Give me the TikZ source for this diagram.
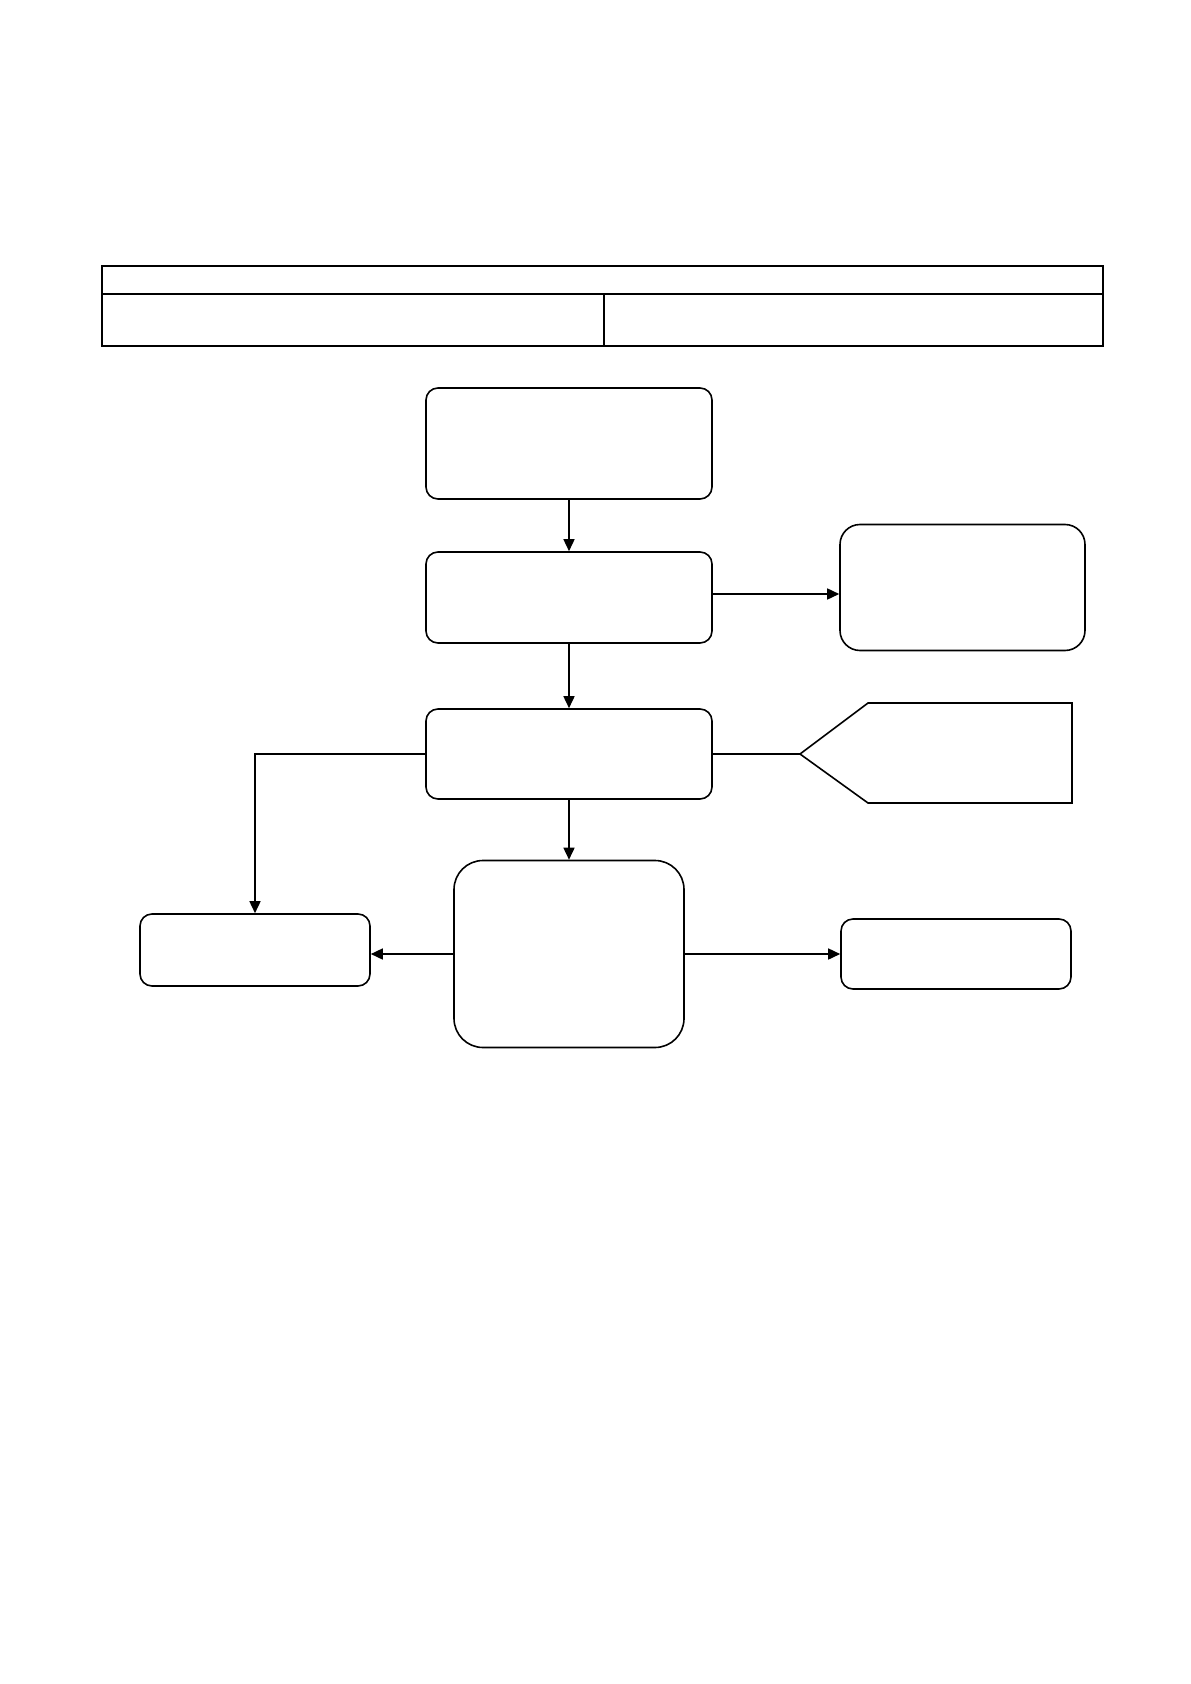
\documentclass[tikz,border=0pt]{standalone}
\usetikzlibrary{arrows.meta,positioning}
\tikzset{
    line style/.style={line width=0.8pt},
    stepbox/.style={draw,line style,rounded corners=6pt,inner sep=0pt},
    widebox/.style={stepbox,rounded corners=10pt},
    roundbox/.style={stepbox,rounded corners=14.5pt},
    arr/.style={-{Triangle[length=6pt,width=5.5pt]},line style},
}
\tikzstyle{every node}=[font=\footnotesize]
\begin{document}
\begin{tikzpicture}[x=0.5pt,y=-0.5pt]
    \useasboundingbox (0,0) rectangle (1190,1684);

    % header table
    \draw[line style] (102,266) rectangle (1103,346);
    \draw[line style] (102,294) -- (1103,294) (604,294) -- (604,346);

    \node[stepbox,minimum width=143pt,minimum height=55.5pt] (start) at (569,443.5) {};
    \node[stepbox,minimum width=143pt,minimum height=45.5pt] (check) at (569,597.5) {};
    \node[widebox,minimum width=122.5pt,minimum height=63pt] (side) at (962.5,587.5) {};
    \node[stepbox,minimum width=143pt,minimum height=45pt] (split) at (569,754) {};
    \node[roundbox,minimum width=115pt,minimum height=93.5pt] (core) at (569,954) {};
    \node[stepbox,minimum width=115pt,minimum height=36pt] (left) at (255,950) {};
    \node[stepbox,minimum width=115pt,minimum height=35pt] (right) at (956,954) {};

    % display shape
    \coordinate (tip) at (800,754);
    \draw[line style] (tip) -- (868,703) -- (1072,703) -- (1072,803) -- (868,803) -- cycle;

    \draw[arr] (start) -- (check);
    \draw[arr] ([yshift=1.75pt]check.east) -- ([yshift=1.75pt]check.east -| side.west);
    \draw[arr] (check) -- (split);
    \draw[arr] (split.west) -| (left.north);
    \draw[line style] (split.east) -- (tip);
    \draw[arr] (split) -- (core);
    \draw[arr] (core.west) -- (core.west -| left.east);
    \draw[arr] (core.east) -- (core.east -| right.west);
\end{tikzpicture}
\end{document}
